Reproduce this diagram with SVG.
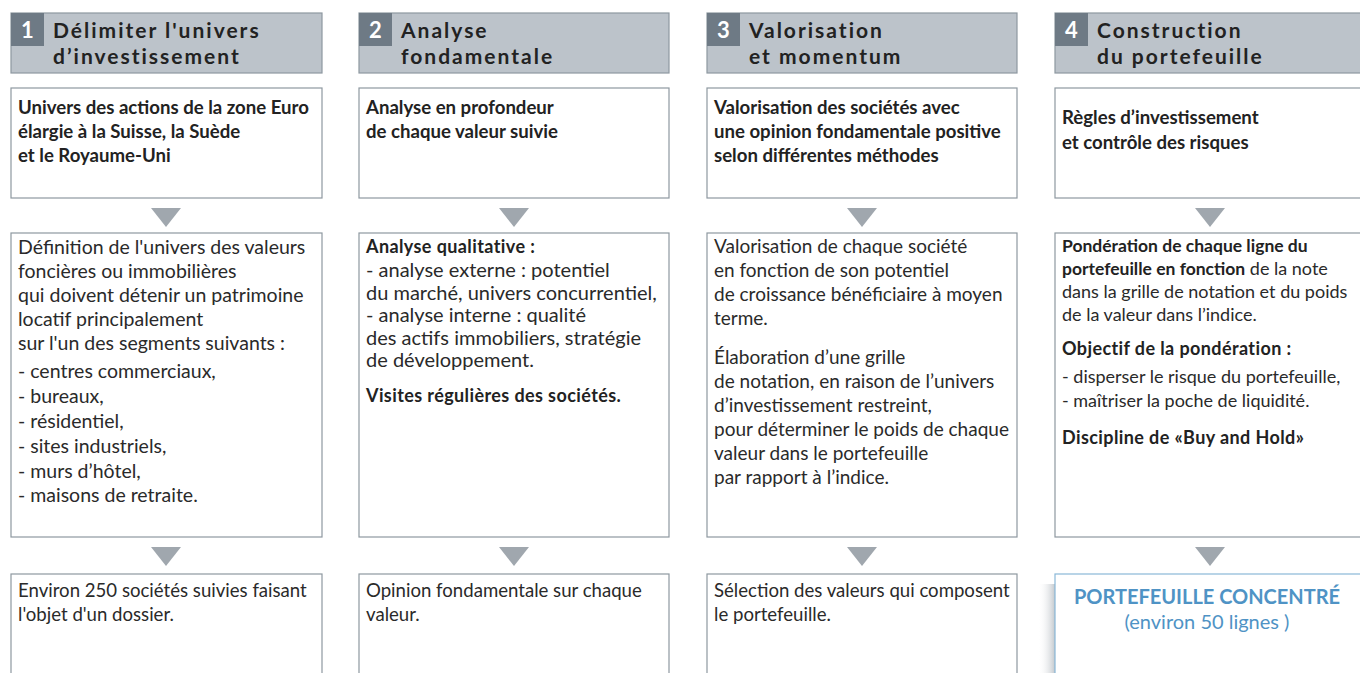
<svg xmlns="http://www.w3.org/2000/svg" width="1360" height="673" viewBox="0 0 1360 673">
<style>
.hd{fill:#bcc3ca;stroke:#8e98a0;stroke-width:1.2}
.num{fill:#6e7a85}
.nt{font-family:Lato,"Liberation Sans",sans-serif;font-weight:700;font-size:22px;fill:#fff;text-anchor:middle}
.ht{font-family:Lato,"Liberation Sans",sans-serif;font-weight:700;font-size:21px;fill:#222;letter-spacing:2px}
.bx{fill:#fff;stroke:#8e98a0;stroke-width:1.2}
.bxb{fill:#fff;stroke:#8ab8d8;stroke-width:1.2}
.b{font-family:Lato,"Liberation Sans",sans-serif;font-weight:700;font-size:18.6px;fill:#222}
.r1{font-family:Lato,"Liberation Sans",sans-serif;font-size:19.5px;fill:#2a2a2a}
.r2{font-family:Lato,"Liberation Sans",sans-serif;font-size:20px;fill:#2a2a2a}
.r3{font-family:Lato,"Liberation Sans",sans-serif;font-size:19px;fill:#2a2a2a}
.rc{font-family:Lato,"Liberation Sans",sans-serif;font-size:18.6px;fill:#2a2a2a}
.r4{font-family:Lato,"Liberation Sans",sans-serif;font-size:18px;fill:#2a2a2a}
.b4{font-family:Lato,"Liberation Sans",sans-serif;font-weight:700;font-size:17.5px;fill:#222}
.bh{font-family:Lato,"Liberation Sans",sans-serif;font-weight:700;font-size:18px;fill:#222;letter-spacing:0.4px}
.arr{fill:#a0a7ae}
.bl{font-family:Lato,"Liberation Sans",sans-serif;font-size:20px;fill:#4f93c5;text-anchor:middle}
</style>
<defs>
<linearGradient id="sh" x1="0" y1="0" x2="1" y2="0">
<stop offset="0" stop-color="#ffffff" stop-opacity="0"/>
<stop offset="1" stop-color="#c3c8cd"/>
</linearGradient>
</defs>

<g id="connectors">
<polygon class="arr" points="151,208 181,208 166,227"/>
<polygon class="arr" points="499,208 529,208 514,227"/>
<polygon class="arr" points="847,208 877,208 862,227"/>
<polygon class="arr" points="1195,208 1225,208 1210,227"/>
<polygon class="arr" points="151,547 181,547 166,566"/>
<polygon class="arr" points="499,547 529,547 514,566"/>
<polygon class="arr" points="847,547 877,547 862,566"/>
<polygon class="arr" points="1195,547 1225,547 1210,566"/>
</g>

<!-- Column 1 -->
<g id="header1">
<rect class="hd" x="11" y="13" width="311" height="60"/>
<rect class="num" x="11" y="13" width="33" height="33"/>
<text class="nt" x="27.5" y="38">1</text>
<text class="ht" x="53" y="38">Délimiter l'univers</text>
<text class="ht" x="53" y="64">d’investissement</text>
</g>
<g id="node1a">
<rect class="bx" x="11" y="88" width="311" height="110"/>
<text class="b" x="18" y="114">Univers des actions de la zone Euro</text>
<text class="b" x="18" y="138">élargie à la Suisse, la Suède</text>
<text class="b" x="18" y="162">et le Royaume-Uni</text>
</g>
<g id="node1b">
<rect class="bx" x="11" y="233" width="311" height="304"/>
<text class="r1" x="18" y="254">Définition de l'univers des valeurs</text>
<text class="r1" x="18" y="278">foncières ou immobilières</text>
<text class="r1" x="18" y="302">qui doivent détenir un patrimoine</text>
<text class="r1" x="18" y="326">locatif principalement</text>
<text class="r1" x="18" y="350">sur l'un des segments suivants :</text>
<text class="r1" x="18" y="378">- centres commerciaux,</text>
<text class="r1" x="18" y="403">- bureaux,</text>
<text class="r1" x="18" y="428">- résidentiel,</text>
<text class="r1" x="18" y="453">- sites industriels,</text>
<text class="r1" x="18" y="478">- murs d’hôtel,</text>
<text class="r1" x="18" y="502">- maisons de retraite.</text>
</g>
<g id="node1c">
<rect class="bx" x="11" y="574" width="311" height="120"/>
<text class="rc" x="18" y="597">Environ 250 sociétés suivies faisant</text>
<text class="rc" x="18" y="621">l'objet d'un dossier.</text>
</g>

<!-- Column 2 -->
<g id="header2">
<rect class="hd" x="359" y="13" width="310" height="60"/>
<rect class="num" x="359" y="13" width="33" height="33"/>
<text class="nt" x="375.5" y="38">2</text>
<text class="ht" x="401" y="38">Analyse</text>
<text class="ht" x="401" y="64">fondamentale</text>
</g>
<g id="node2a">
<rect class="bx" x="359" y="88" width="310" height="110"/>
<text class="b" x="366" y="114">Analyse en profondeur</text>
<text class="b" x="366" y="138">de chaque valeur suivie</text>
</g>
<g id="node2b">
<rect class="bx" x="359" y="233" width="310" height="304"/>
<text class="bh" x="366" y="253">Analyse qualitative :</text>
<text class="r2" x="366" y="277">- analyse externe : potentiel</text>
<text class="r2" x="366" y="299.5">du marché, univers concurrentiel,</text>
<text class="r2" x="366" y="322">- analyse interne : qualité</text>
<text class="r2" x="366" y="344.5">des actifs immobiliers, stratégie</text>
<text class="r2" x="366" y="367">de développement.</text>
<text class="bh" x="366" y="402">Visites régulières des sociétés.</text>
</g>
<g id="node2c">
<rect class="bx" x="359" y="574" width="310" height="120"/>
<text class="rc" x="366" y="597">Opinion fondamentale sur chaque</text>
<text class="rc" x="366" y="621">valeur.</text>
</g>

<!-- Column 3 -->
<g id="header3">
<rect class="hd" x="707" y="13" width="310" height="60"/>
<rect class="num" x="707" y="13" width="33" height="33"/>
<text class="nt" x="723.5" y="38">3</text>
<text class="ht" x="749" y="38">Valorisation</text>
<text class="ht" x="749" y="64">et momentum</text>
</g>
<g id="node3a">
<rect class="bx" x="707" y="88" width="310" height="110"/>
<text class="b" x="714" y="114">Valorisation des sociétés avec</text>
<text class="b" x="714" y="138">une opinion fondamentale positive</text>
<text class="b" x="714" y="162">selon différentes méthodes</text>
</g>
<g id="node3b">
<rect class="bx" x="707" y="233" width="310" height="304"/>
<text class="r3" x="714" y="253">Valorisation de chaque société</text>
<text class="r3" x="714" y="277">en fonction de son potentiel</text>
<text class="r3" x="714" y="301">de croissance bénéficiaire à moyen</text>
<text class="r3" x="714" y="325">terme.</text>
<text class="r3" x="714" y="364">Élaboration d’une grille</text>
<text class="r3" x="714" y="388">de notation, en raison de l’univers</text>
<text class="r3" x="714" y="412">d’investissement restreint,</text>
<text class="r3" x="714" y="436">pour déterminer le poids de chaque</text>
<text class="r3" x="714" y="460">valeur dans le portefeuille</text>
<text class="r3" x="714" y="484">par rapport à l’indice.</text>
</g>
<g id="node3c">
<rect class="bx" x="707" y="574" width="310" height="120"/>
<text class="rc" x="714" y="597">Sélection des valeurs qui composent</text>
<text class="rc" x="714" y="621">le portefeuille.</text>
</g>

<!-- Column 4 -->
<g id="header4">
<rect class="hd" x="1055" y="13" width="320" height="60"/>
<rect class="num" x="1055" y="13" width="33" height="33"/>
<text class="nt" x="1071.5" y="38">4</text>
<text class="ht" x="1097" y="38">Construction</text>
<text class="ht" x="1097" y="64">du portefeuille</text>
</g>
<g id="node4a">
<rect class="bx" x="1055" y="88" width="320" height="110"/>
<text class="b" x="1062" y="124">Règles d’investissement</text>
<text class="b" x="1062" y="149">et contrôle des risques</text>
</g>
<g id="node4b">
<rect class="bx" x="1055" y="233" width="320" height="304"/>
<text class="b4" x="1062" y="252">Pondération de chaque ligne du</text>
<text class="r4" x="1062" y="275"><tspan class="b4">portefeuille en fonction</tspan> de la note</text>
<text class="r4" x="1062" y="298">dans la grille de notation et du poids</text>
<text class="r4" x="1062" y="321">de la valeur dans l’indice.</text>
<text class="bh" x="1062" y="355">Objectif de la pondération :</text>
<text class="r4" x="1062" y="383">- disperser le risque du portefeuille,</text>
<text class="r4" x="1062" y="407">- maîtriser la poche de liquidité.</text>
<text class="bh" x="1062" y="444">Discipline de «Buy and Hold»</text>
</g>
<g id="node4c">
<rect x="1038" y="584" width="17" height="100" fill="url(#sh)"/>
<rect class="bxb" x="1055" y="574" width="320" height="120"/>
<text class="bl" x="1207" y="604" font-weight="700">PORTEFEUILLE CONCENTRÉ</text>
<text class="bl" x="1207" y="629">(environ 50 lignes )</text>
</g>
</svg>
